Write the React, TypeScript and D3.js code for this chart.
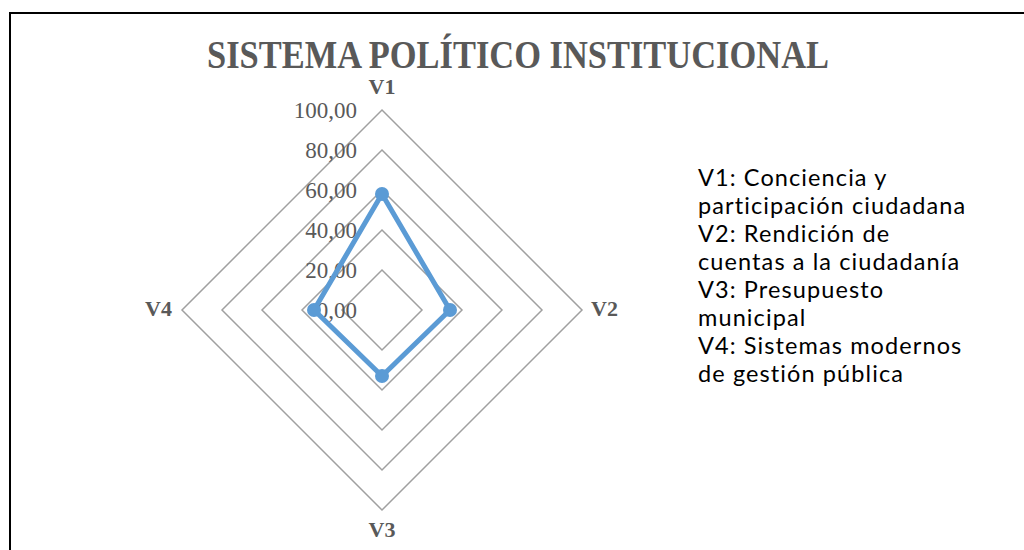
import React from "react";
import * as d3 from "d3";

const categories = ["V1", "V2", "V3", "V4"];
const values = [58, 34, 33, 34];
const tickValues = [0, 20, 40, 60, 80, 100];
const tickLabels = ["0,00", "20,00", "40,00", "60,00", "80,00", "100,00"];
const legendLines = [
  "V1: Conciencia y",
  "participación ciudadana",
  "V2: Rendición de",
  "cuentas a la ciudadanía",
  "V3: Presupuesto",
  "municipal",
  "V4: Sistemas modernos",
  "de gestión pública",
];
const title = "SISTEMA POLÍTICO INSTITUCIONAL";

export default function App() {
  const W = 1024, H = 550;
  const cx = 382, cy = 310;
  const r = d3.scaleLinear().domain([0, 100]).range([0, 200]);
  const angle = d3.scaleBand<string>().domain(categories).range([0, 2 * Math.PI]).align(0).paddingInner(0).paddingOuter(0);
  const ang = (c: string) => angle(c) as number;
  const ringLine = d3.lineRadial<string>().angle((c) => ang(c)).curve(d3.curveLinearClosed);
  const seriesLine = d3
    .lineRadial<number>()
    .angle((_, i) => ang(categories[i]))
    .radius((v) => r(v))
    .curve(d3.curveLinearClosed);
  const pt = (c: string, v: number) => {
    const a = ang(c);
    return [Math.sin(a) * r(v), -Math.cos(a) * r(v)];
  };
  const serif = "'Liberation Serif', 'Times New Roman', serif";
  const gray = "#595959";
  const labelPos: Record<string, { dx: number; dy: number; anchor: string }> = {
    V1: { dx: 0, dy: -16, anchor: "middle" },
    V2: { dx: 9, dy: 6, anchor: "start" },
    V3: { dx: 0, dy: 27, anchor: "middle" },
    V4: { dx: -10, dy: 6, anchor: "end" },
  };
  return (
    <svg width={W} height={H} style={{ position: "absolute", left: 0, top: 0 }}>
      <rect x={0} y={0} width={W} height={H} fill="#fff" />
      <rect x={10} y={13} width={W + 20} height={H + 20} fill="none" stroke="#000" strokeWidth={2} />
      <text x={518} y={68} textAnchor="middle" fontFamily={serif} fontWeight="bold" fontSize={39} fill={gray} textLength={622} lengthAdjust="spacingAndGlyphs">
        {title}
      </text>
      <g transform={`translate(${cx},${cy})`}>
        {tickValues.filter((t) => t > 0).map((t) => (
          <path key={t} d={ringLine.radius(() => r(t))(categories) || ""} fill="none" stroke="#A0A0A0" strokeWidth={1.5} />
        ))}
        {tickValues.map((t, i) => (
          <text key={"t" + t} x={-25} y={-r(t)} dy="0.35em" textAnchor="end" fontFamily={serif} fontSize={23} fill={gray}>
            {tickLabels[i]}
          </text>
        ))}
        <path d={seriesLine(values) || ""} fill="none" stroke="#5B9BD5" strokeWidth={5} strokeLinejoin="round" />
        {values.map((v, i) => {
          const [x, y] = pt(categories[i], v);
          return <circle key={"p" + i} cx={x} cy={y} r={7} fill="#5B9BD5" />;
        })}
        {categories.map((c) => {
          const [x, y] = pt(c, 100);
          const p = labelPos[c];
          return (
            <text key={"l" + c} x={x + p.dx} y={y + p.dy} textAnchor={p.anchor} fontFamily={serif} fontWeight="bold" fontSize={22} fill={gray}>
              {c}
            </text>
          );
        })}
      </g>
      {legendLines.map((l, i) => (
        <text key={"lg" + i} x={698} y={186 + i * 28} fontFamily="Lato, 'Open Sans', sans-serif" fontSize={23.5} letterSpacing={1.1} fill="#000">
          {l}
        </text>
      ))}
    </svg>
  );
}
